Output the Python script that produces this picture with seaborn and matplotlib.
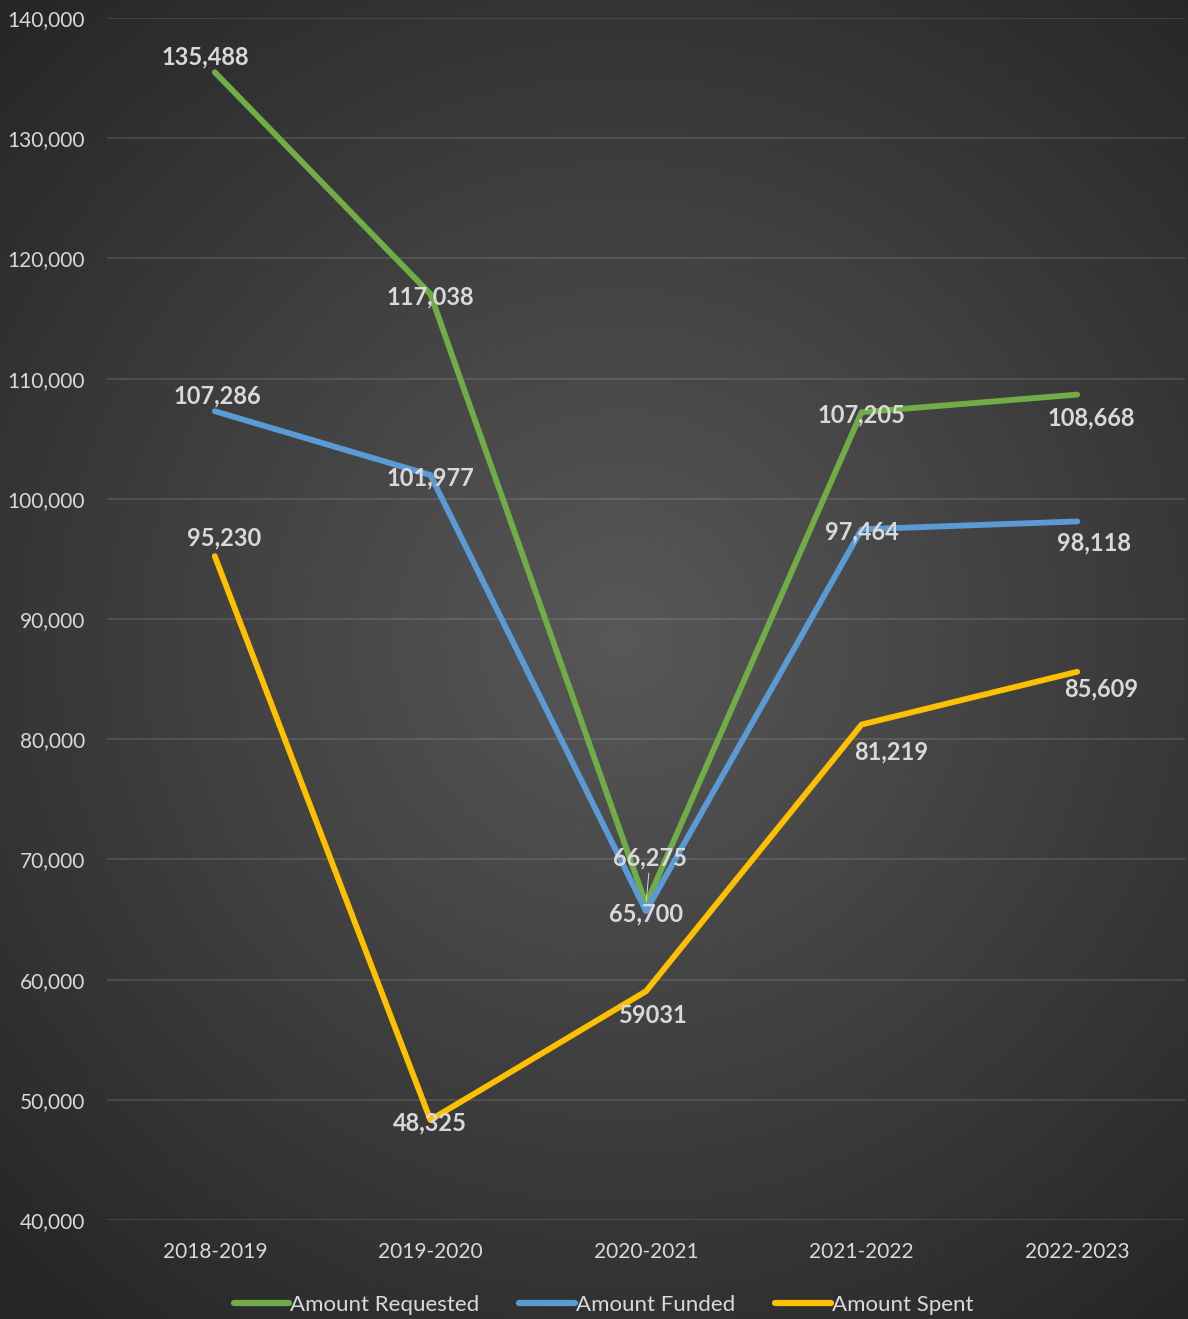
import numpy as np
import pandas as pd
import matplotlib
matplotlib.use("Agg")
import matplotlib.pyplot as plt
import seaborn as sns

years = ["2018-2019", "2019-2020", "2020-2021", "2021-2022", "2022-2023"]
series_names = ["Amount Requested", "Amount Funded", "Amount Spent"]
requested = [135488, 117038, 66275, 107205, 108668]
funded = [107286, 101977, 65700, 97464, 98118]
spent = [95230, 48325, 59031, 81219, 85609]
requested_labels = ["135,488", "117,038", "66,275", "107,205", "108,668"]
funded_labels = ["107,286", "101,977", "65,700", "97,464", "98,118"]
spent_labels = ["95,230", "48,325", "59031", "81,219", "85,609"]

COLORS = ["#70AD47", "#5B9BD5", "#FFC000"]
TEXT = "#d9d9d9"

# label offsets in points (dx, dy), per series and year
OFFSETS = [
    [(-6.5, 11), (0, -2), (3, 33), (0, -2), (10, -17)],
    [(2, 11), (0, -2), (0, -2), (0, -2), (12, -15.5)],
    [(6.5, 13), (0, -2), (5, -17.5), (21, -19.5), (17, -12.5)],
]

sns.set_theme(style="dark")
plt.rcParams["font.family"] = ["Lato", "DejaVu Sans"]

df = pd.DataFrame({
    "Year": years * 3,
    "Series": np.repeat(series_names, len(years)),
    "Value": requested + funded + spent,
})

fig = plt.figure(figsize=(11.88, 13.19), dpi=100)

# radial gradient background
bg = fig.add_axes([0, 0, 1, 1], zorder=-1)
yy, xx = np.mgrid[0:1319, 0:1188]
r = np.sqrt(((xx - 620) / 900) ** 2 + ((yy - 640) / 900) ** 2)
r = np.clip(r / 0.95, 0, 1)
shade = 0.345 - (0.345 - 0.155) * r
bg.imshow(np.dstack([shade] * 3), aspect="auto", extent=[0, 1, 0, 1])
bg.axis("off")

ax = fig.add_axes([107 / 1188, 1 - 1220 / 1319, (1185 - 107) / 1188, (1220 - 18) / 1319])
ax.set_facecolor("none")

sns.lineplot(data=df, x="Year", y="Value", hue="Series", hue_order=series_names,
             palette=COLORS, linewidth=4.2, ax=ax, sort=False)

ax.set_xlim(-0.5, 4.5)
ax.set_ylim(40000, 140000)
ax.set_yticks(range(40000, 140001, 10000))
ax.yaxis.set_major_formatter(matplotlib.ticker.StrMethodFormatter("{x:,.0f}"))
ax.grid(axis="y", color="white", alpha=0.12, linewidth=1.3)
ax.grid(axis="x", visible=False)
for s in ax.spines.values():
    s.set_visible(False)
ax.tick_params(axis="both", colors=TEXT, labelsize=15, length=0)
ax.tick_params(axis="y", pad=16)
ax.tick_params(axis="x", pad=16)
ax.set_xlabel("")
ax.set_ylabel("")

all_vals = [requested, funded, spent]
all_labels = [requested_labels, funded_labels, spent_labels]
for si in range(3):
    for i, (v, lab) in enumerate(zip(all_vals[si], all_labels[si])):
        dx, dy = OFFSETS[si][i]
        kw = {}
        if si == 0 and i == 2:
            kw["arrowprops"] = dict(arrowstyle="-", color=TEXT, lw=0.7, shrinkA=0, shrinkB=2)
        ax.annotate(lab, (i, v), xytext=(dx, dy), textcoords="offset points",
                    ha="center", va="center", fontsize=17, fontweight="bold",
                    color=TEXT, zorder=5, **kw)

handles, labels = ax.get_legend_handles_labels()
ax.legend_.remove()
leg = fig.legend(handles, labels, loc="center", bbox_to_anchor=(0.508, 1 - 1305 / 1319),
                 ncol=3, frameon=False, fontsize=16, handlelength=2.5,
                 handletextpad=0.05, columnspacing=1.8)
for t in leg.get_texts():
    t.set_color(TEXT)
for h in leg.get_lines():
    h.set_linewidth(4.5)
    h.set_solid_capstyle("round")

fig.savefig("out.png", dpi=100)
